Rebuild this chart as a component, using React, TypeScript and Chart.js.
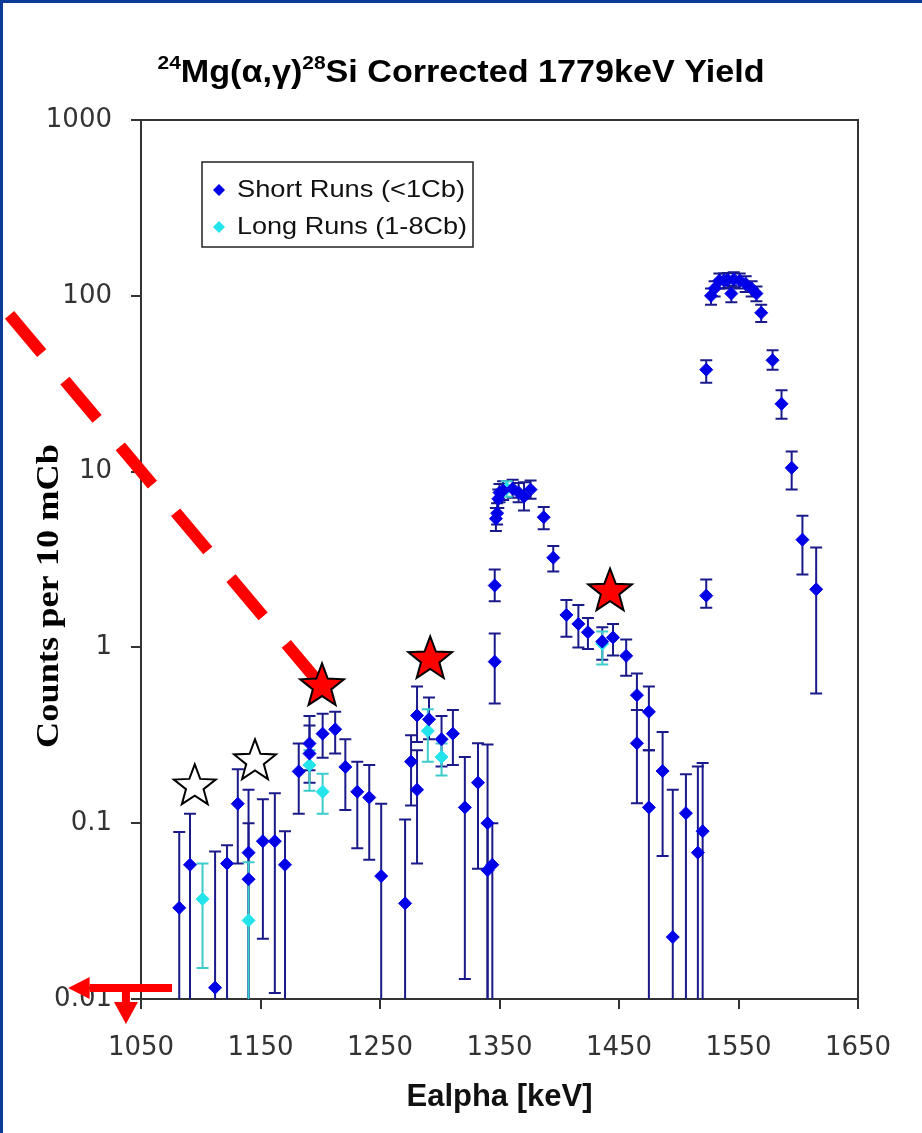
import React, { useEffect, useRef } from 'react';
import { Chart, registerables } from 'chart.js';
Chart.register(...registerables);

const X_TICKS = [1050, 1150, 1250, 1350, 1450, 1550, 1650];
const Y_TICKS = [0.01, 0.1, 1, 10, 100, 1000];

const SHORT_E = [1082,1091,1112,1122,1131,1140,1140,1152,1162,1170.5,1182,1191,1191,1202,1212.5,1221,1231,1241,1251,1271,1276,1281,1281,1291,1301.5,1311,1321,1332,1340,1340,1344,1346,1346,1347,1348,1349,1350,1353,1361,1366,1370.5,1376,1387,1395,1406,1416,1424,1436,1445,1456,1465,1465,1475,1475,1486.5,1495,1506,1516,1520,1523,1523,1527,1530,1534,1538,1541,1544,1546,1551,1556,1561,1565,1569,1578.5,1586,1594.5,1603.5,1615];
const SHORT_Y = [0.033,0.058,0.0116,0.059,0.129,0.068,0.048,0.079,0.079,0.058,0.197,0.284,0.249,0.323,0.342,0.209,0.151,0.14,0.05,0.035,0.224,0.41,0.155,0.39,0.30,0.323,0.123,0.17,0.10,0.054,0.058,0.83,2.25,5.4,5.8,7.0,7.6,7.8,8.0,7.6,7.2,7.9,5.5,3.24,1.53,1.36,1.22,1.08,1.14,0.895,0.535,0.285,0.43,0.123,0.198,0.0225,0.114,0.068,0.09,38,1.97,100,110,122,122,123,103,124,122,117,110,103,80,43,24.3,10.5,4.1,2.14];
const SHORT_LO = [0.001,0.001,0.001,0.001,0.059,0.001,0.001,0.022,0.0108,0.001,0.113,0.2,0.17,0.236,0.249,0.119,0.072,0.062,0.001,0.001,0.126,0.29,0.059,0.30,0.21,0.214,0.013,0.055,0.001,0.001,0.001,0.48,1.83,4.6,5.0,6.2,6.7,6.9,7.1,6.7,6.0,7.0,4.7,2.7,1.15,1.0,0.98,0.85,0.9,0.69,0.44,0.13,0.26,0.001,0.065,0.001,0.001,0.001,0.001,32,1.68,89,99,110,110,111,92,112,110,105,99,93,71,38,20,7.9,2.6,0.546];
const SHORT_HI = [0.089,0.113,0.069,0.075,0.203,0.155,0.1,0.137,0.148,0.09,0.284,0.407,0.36,0.42,0.43,0.30,0.224,0.214,0.129,0.105,0.316,0.6,0.26,0.518,0.407,0.44,0.238,0.285,0.28,0.1,0.1,1.2,2.77,6.2,6.6,7.9,8.5,8.8,9.0,8.6,8.7,8.9,6.3,3.77,1.86,1.74,1.47,1.3,1.36,1.11,0.71,0.44,0.60,0.26,0.33,0.155,0.19,0.21,0.22,43,2.43,110,121,134,134,135,114,136,134,129,121,113,89,49,29,13,5.6,3.7];

const LONG_E = [1101.5,1140,1191,1202,1290,1301.5,1356,1436];
const LONG_Y = [0.037,0.028,0.214,0.151,0.335,0.238,8.0,1.05];
const LONG_LO = [0.015,0.001,0.153,0.113,0.224,0.187,7.2,0.8];
const LONG_HI = [0.059,0.06,0.26,0.191,0.445,0.284,8.8,1.23];

const RED_STAR_E = [1201.5, 1292, 1442.5];
const RED_STAR_Y = [0.6, 0.855, 2.08];
const WHITE_STAR_E = [1095, 1145.4];
const WHITE_STAR_Y = [0.162, 0.225];
const DASH_E = [940, 1201.5];
const DASH_Y = [78, 0.6];
const LEFT_ARROW_E = [1076, 1007, 989];
const LEFT_ARROW_Y = 0.01155;
const DOWN_ARROW_E = 1037.4;
const DOWN_ARROW_Y = [0.01155, 0.0096, 0.0072];

const TITLE_PARTS = [
  { t: '24', sup: true },
  { t: 'Mg(\u03b1,\u03b3)', sup: false },
  { t: '28', sup: true },
  { t: 'Si Corrected 1779keV Yield', sup: false },
];
const LEGEND_LABELS = ['Short Runs (<1Cb)', 'Long Runs (1-8Cb)'];
const Y_TITLE = 'Counts per 10 mCb';
const X_TITLE = 'Ealpha [keV]';

const DARK_MARK = '#0000e8';
const DARK_BAR = '#1a1a8a';
const CYAN_MARK = '#22e4ea';
const CYAN_BAR = '#3ccccc';

function fitText(ctx: CanvasRenderingContext2D, text: string, x: number, y: number, w: number) {
  const m = ctx.measureText(text).width;
  ctx.save();
  ctx.translate(x, y);
  ctx.scale(w / m, 1);
  ctx.fillText(text, 0, 0);
  ctx.restore();
}

function star(ctx: CanvasRenderingContext2D, cx: number, cy: number, R: number, fill: string) {
  const r = R * 0.42;
  ctx.beginPath();
  for (let i = 0; i < 10; i++) {
    const a = -Math.PI / 2 + (i * Math.PI) / 5;
    const rad = i % 2 === 0 ? R : r;
    const px = cx + rad * Math.cos(a);
    const py = cy + rad * Math.sin(a);
    if (i === 0) ctx.moveTo(px, py); else ctx.lineTo(px, py);
  }
  ctx.closePath();
  ctx.fillStyle = fill;
  ctx.fill();
  ctx.strokeStyle = '#000';
  ctx.lineWidth = 2;
  ctx.stroke();
}

const errorBars = {
  id: 'errorBars',
  beforeDatasetsDraw(chart: any) {
    const { ctx, chartArea: a, scales } = chart;
    const x = scales.x, y = scales.y;
    ctx.save();
    ctx.beginPath();
    ctx.rect(a.left, a.top - 10, a.right - a.left, a.bottom - a.top + 10);
    ctx.clip();
    chart.data.datasets.forEach((ds: any) => {
      ctx.strokeStyle = ds.barColor;
      ctx.lineWidth = 2;
      ds.data.forEach((p: any, i: number) => {
        const px = x.getPixelForValue(p.x);
        const yl = y.getPixelForValue(ds.lo[i]);
        const yh = y.getPixelForValue(ds.hi[i]);
        ctx.beginPath();
        ctx.moveTo(px, yl);
        ctx.lineTo(px, yh);
        ctx.moveTo(px - 6, yh);
        ctx.lineTo(px + 6, yh);
        if (ds.lo[i] >= 0.0101) {
          ctx.moveTo(px - 6, yl);
          ctx.lineTo(px + 6, yl);
        }
        ctx.stroke();
      });
    });
    ctx.restore();
    ctx.save();
    ctx.strokeStyle = '#333';
    ctx.lineWidth = 2;
    ctx.beginPath();
    ctx.moveTo(a.left, a.top);
    ctx.lineTo(a.right, a.top);
    ctx.lineTo(a.right, a.bottom);
    ctx.stroke();
    ctx.restore();
  },
};

const decorations = {
  id: 'decorations',
  afterDraw(chart: any) {
    const { ctx, scales } = chart;
    const x = scales.x, y = scales.y;
    ctx.save();
    ctx.fillStyle = '#0b3a98';
    ctx.fillRect(0, 0, chart.width, 3);
    ctx.fillRect(0, 0, 3, chart.height);

    // title
    const bigFont = 'bold 31px "Liberation Sans", Arial, sans-serif';
    const supFont = 'bold 19px "Liberation Sans", Arial, sans-serif';
    let total = 0;
    const widths: number[] = [];
    TITLE_PARTS.forEach((p) => {
      ctx.font = p.sup ? supFont : bigFont;
      const w = ctx.measureText(p.t).width;
      widths.push(w);
      total += w;
    });
    const targetW = 607;
    const sx = targetW / total;
    ctx.save();
    ctx.translate(461 - targetW / 2, 0);
    ctx.scale(sx, 1);
    ctx.fillStyle = '#000';
    ctx.textBaseline = 'alphabetic';
    let cx = 0;
    TITLE_PARTS.forEach((p, i) => {
      ctx.font = p.sup ? supFont : bigFont;
      ctx.fillText(p.t, cx, p.sup ? 69 : 82);
      cx += widths[i];
    });
    ctx.restore();

    // y title
    ctx.save();
    ctx.translate(50, 596);
    ctx.rotate(-Math.PI / 2);
    ctx.font = 'bold 32px "Liberation Serif", "Times New Roman", serif';
    ctx.fillStyle = '#000';
    ctx.textAlign = 'left';
    ctx.textBaseline = 'middle';
    const yw = 304;
    fitText(ctx, Y_TITLE, -yw / 2, 0, yw);
    ctx.restore();

    // legend
    ctx.fillStyle = '#fff';
    ctx.fillRect(202, 162, 271, 85);
    ctx.strokeStyle = '#222';
    ctx.lineWidth = 1.5;
    ctx.strokeRect(202, 162, 271, 85);
    const legendMarks = [DARK_MARK, CYAN_MARK];
    const legendY = [190, 227];
    const legendW = [228, 230];
    LEGEND_LABELS.forEach((lab, i) => {
      const ly = legendY[i];
      ctx.fillStyle = legendMarks[i];
      ctx.beginPath();
      ctx.moveTo(219, ly - 6);
      ctx.lineTo(225, ly);
      ctx.lineTo(219, ly + 6);
      ctx.lineTo(213, ly);
      ctx.closePath();
      ctx.fill();
      ctx.fillStyle = '#111';
      ctx.font = '24px "Liberation Sans", Arial, sans-serif';
      ctx.textBaseline = 'middle';
      ctx.textAlign = 'left';
      fitText(ctx, lab, 237, ly, legendW[i]);
    });

    // dashed red line
    ctx.save();
    ctx.strokeStyle = '#ff0000';
    ctx.lineWidth = 12;
    ctx.lineCap = 'butt';
    ctx.setLineDash([50, 36]);
    ctx.beginPath();
    ctx.moveTo(x.getPixelForValue(DASH_E[0]), y.getPixelForValue(DASH_Y[0]));
    ctx.lineTo(x.getPixelForValue(DASH_E[1]), y.getPixelForValue(DASH_Y[1]));
    ctx.stroke();
    ctx.restore();

    RED_STAR_E.forEach((e, i) => star(ctx, x.getPixelForValue(e), y.getPixelForValue(RED_STAR_Y[i]), 23, '#ff0000'));
    WHITE_STAR_E.forEach((e, i) => star(ctx, x.getPixelForValue(e), y.getPixelForValue(WHITE_STAR_Y[i]), 22, '#ffffff'));

    // arrows
    ctx.fillStyle = '#ff0000';
    const ay = y.getPixelForValue(LEFT_ARROW_Y);
    const ax0 = x.getPixelForValue(LEFT_ARROW_E[0]);
    const axb = x.getPixelForValue(LEFT_ARROW_E[1]);
    const axt = x.getPixelForValue(LEFT_ARROW_E[2]);
    ctx.fillRect(axb, ay - 4, ax0 - axb, 8);
    ctx.beginPath();
    ctx.moveTo(axt, ay);
    ctx.lineTo(axb, ay - 11);
    ctx.lineTo(axb, ay + 11);
    ctx.closePath();
    ctx.fill();
    const dx = x.getPixelForValue(DOWN_ARROW_E);
    const dy0 = y.getPixelForValue(DOWN_ARROW_Y[0]);
    const dyb = y.getPixelForValue(DOWN_ARROW_Y[1]);
    const dyt = y.getPixelForValue(DOWN_ARROW_Y[2]);
    ctx.fillRect(dx - 4, dy0, 8, dyb - dy0);
    ctx.beginPath();
    ctx.moveTo(dx - 12, dyb);
    ctx.lineTo(dx + 12, dyb);
    ctx.lineTo(dx, dyt);
    ctx.closePath();
    ctx.fill();
    ctx.restore();
  },
};

export default function App() {
  const ref = useRef<HTMLCanvasElement | null>(null);
  useEffect(() => {
    if (!ref.current) return;
    const chart = new Chart(ref.current, {
      type: 'scatter',
      data: {
        datasets: [
          {
            label: LEGEND_LABELS[0],
            data: SHORT_E.map((e, i) => ({ x: e, y: SHORT_Y[i] })),
            lo: SHORT_LO,
            hi: SHORT_HI,
            barColor: DARK_BAR,
            pointStyle: 'rectRot',
            pointRadius: 6.5,
            backgroundColor: DARK_MARK,
            borderColor: DARK_MARK,
            borderWidth: 1,
          } as any,
          {
            label: LEGEND_LABELS[1],
            data: LONG_E.map((e, i) => ({ x: e, y: LONG_Y[i] })),
            lo: LONG_LO,
            hi: LONG_HI,
            barColor: CYAN_BAR,
            pointStyle: 'rectRot',
            pointRadius: 6.5,
            backgroundColor: CYAN_MARK,
            borderColor: CYAN_MARK,
            borderWidth: 1,
          } as any,
        ],
      },
      options: {
        responsive: false,
        animation: false,
        devicePixelRatio: 1,
        layout: { padding: { top: 120, right: 64, left: 0, bottom: 0 } },
        plugins: { legend: { display: false }, title: { display: false }, tooltip: { enabled: false } },
        scales: {
          x: {
            type: 'linear',
            min: 1050,
            max: 1650,
            afterFit: (s: any) => { s.height = 134; },
            afterBuildTicks: (s: any) => { s.ticks = X_TICKS.map((v) => ({ value: v })); },
            ticks: {
              color: '#333',
              padding: 24,
              maxRotation: 0,
              autoSkip: false,
              font: { family: '"DejaVu Sans", sans-serif', size: 26 },
              callback: (v: any) => String(v),
            },
            grid: { drawOnChartArea: false, drawTicks: true, tickLength: 10, color: '#333', lineWidth: 2 },
            border: { display: true, color: '#333', width: 2 },
            title: {
              display: true,
              text: X_TITLE,
              color: '#111',
              font: { family: '"Liberation Sans", Arial, sans-serif', size: 31, weight: 'bold' },
              padding: { top: 0, bottom: 17 },
            },
          },
          y: {
            type: 'logarithmic',
            min: 0.01,
            max: 1000,
            afterFit: (s: any) => { s.width = 141; },
            afterBuildTicks: (s: any) => { s.ticks = Y_TICKS.map((v) => ({ value: v })); },
            ticks: {
              color: '#333',
              padding: 19,
              autoSkip: false,
              font: { family: '"DejaVu Sans", sans-serif', size: 26 },
              callback: (v: any) => String(v),
            },
            grid: { drawOnChartArea: false, drawTicks: true, tickLength: 10, color: '#333', lineWidth: 2 },
            border: { display: true, color: '#333', width: 2 },
          },
        },
      },
      plugins: [errorBars, decorations],
    });
    return () => chart.destroy();
  }, []);
  return (
    <div style={{ position: 'absolute', left: 0, top: 0, width: 922, height: 1133, background: '#fff' }}>
      <canvas ref={ref} width={922} height={1133} style={{ display: 'block' }} />
    </div>
  );
}
